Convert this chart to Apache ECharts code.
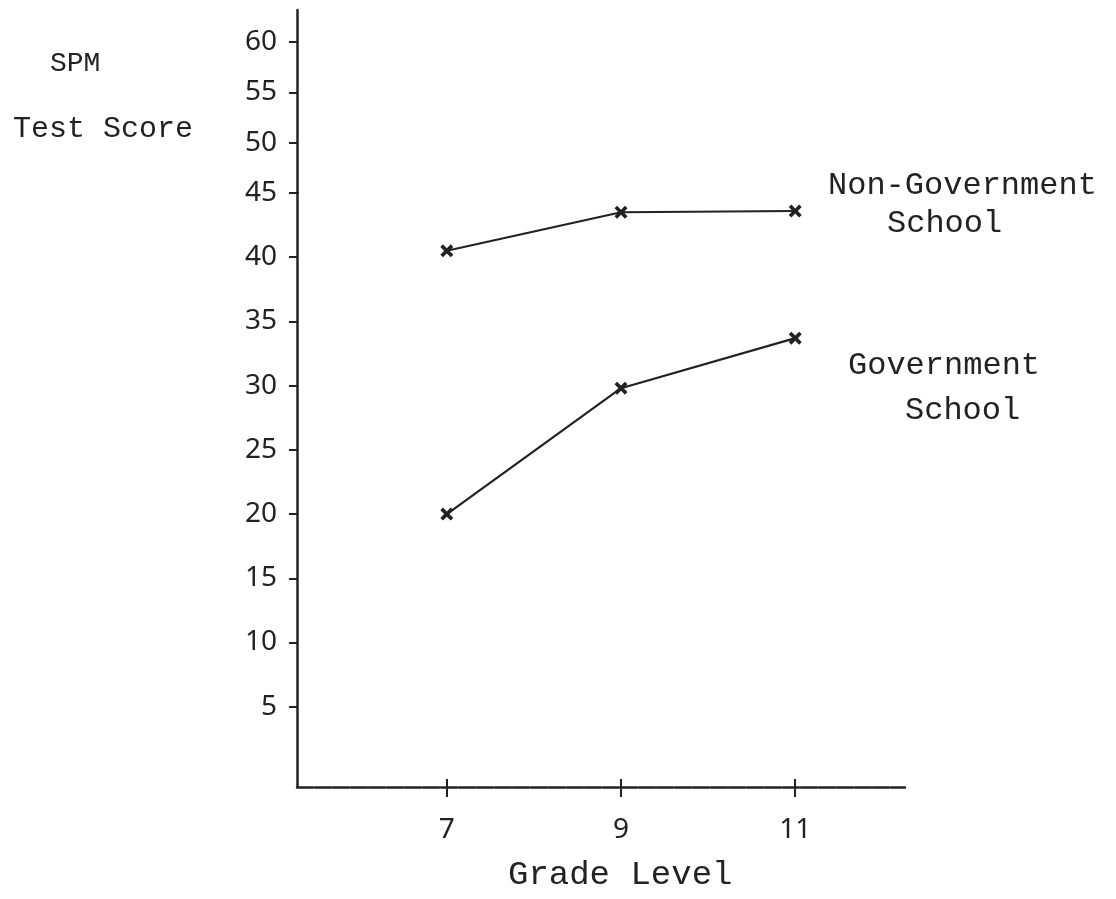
<!DOCTYPE html>
<html>
<head>
<meta charset="utf-8">
<script src="https://cdn.jsdelivr.net/npm/echarts@6/dist/echarts.min.js"></script>
<style>html,body{margin:0;padding:0;background:#fff;}#c{width:1116px;height:899px;}</style>
</head>
<body>
<div id="c"></div>
<script>
// ---- data ----
var grades = [7, 9, 11];
var nonGovScores = [40.5, 43.5, 43.6];
var govScores = [20, 29.8, 33.7];
var lowerTicks = [5, 10, 15, 20, 25, 30, 35, 40, 45];
var upperTicks = [50, 55, 60];
var gradeTicks = [7, 9, 11];

var ink = '#222222';
var typeFont = '"Liberation Mono", "DejaVu Sans Mono", monospace';
var numFont = '"Noto Sans", "Open Sans", sans-serif';

function pairs(xs, ys) { return xs.map(function (x, i) { return [x, ys[i]]; }); }

var crossPath = 'path://M2,0 L5,3 L8,0 L10,2 L7,5 L10,8 L8,10 L5,7 L2,10 L0,8 L3,5 L0,2 Z';

var chart = echarts.init(document.getElementById('c'), null, {renderer: 'canvas'});
chart.setOption({
  backgroundColor: '#ffffff',
  animation: false,
  grid: [
    {left: 297, top: 193, width: 608, height: 594},
    {left: 297, top: 10, width: 608, height: 183}
  ],
  xAxis: [
    {
      type: 'value', gridIndex: 0, min: 5.28, max: 12.26,
      axisLine: {show: true, onZero: false, lineStyle: {color: ink, width: 2.5, type: [16, 2]}},
      axisTick: {show: true, customValues: gradeTicks, length: 10, lineStyle: {color: ink, width: 2}},
      axisLabel: {show: true, customValues: gradeTicks, margin: 29, fontSize: 28, color: ink, fontFamily: numFont},
      splitLine: {show: false}
    },
    {
      type: 'value', gridIndex: 0, min: 5.28, max: 12.26, position: 'bottom',
      axisLine: {show: false, onZero: false},
      axisTick: {show: true, inside: true, customValues: gradeTicks, length: 8, lineStyle: {color: ink, width: 2}},
      axisLabel: {show: false},
      splitLine: {show: false}
    },
    {type: 'value', gridIndex: 1, min: 5.28, max: 12.26, show: false}
  ],
  yAxis: [
    {
      type: 'value', gridIndex: 0, min: -1.25, max: 45,
      axisLine: {show: true, onZero: false, lineStyle: {color: ink, width: 2.5}},
      axisTick: {show: true, customValues: lowerTicks, length: 8, lineStyle: {color: ink, width: 2}},
      axisLabel: {show: true, customValues: lowerTicks, margin: 20, fontSize: 28, color: ink, fontFamily: numFont},
      splitLine: {show: false}
    },
    {
      type: 'value', gridIndex: 1, min: 45, max: 63.2,
      axisLine: {show: true, onZero: false, lineStyle: {color: ink, width: 2.5}},
      axisTick: {show: true, customValues: upperTicks, length: 8, lineStyle: {color: ink, width: 2}},
      axisLabel: {show: true, customValues: upperTicks, margin: 20, fontSize: 28, color: ink, fontFamily: numFont},
      splitLine: {show: false}
    }
  ],
  series: [
    {
      name: 'Non-Government School', type: 'line', xAxisIndex: 0, yAxisIndex: 0,
      data: pairs(grades, nonGovScores),
      symbol: crossPath, symbolSize: 13, showAllSymbol: true,
      lineStyle: {color: ink, width: 2.2},
      itemStyle: {color: ink}
    },
    {
      name: 'Government School', type: 'line', xAxisIndex: 0, yAxisIndex: 0,
      data: pairs(grades, govScores),
      symbol: crossPath, symbolSize: 13, showAllSymbol: true,
      lineStyle: {color: ink, width: 2.2},
      itemStyle: {color: ink}
    }
  ],
  graphic: [
    {type: 'text', left: 50, top: 50, style: {text: 'SPM', font: '28px ' + typeFont, fill: ink}},
    {type: 'text', left: 13, top: 114, style: {text: 'Test Score', font: '30px ' + typeFont, fill: ink}},
    {type: 'text', left: 828, top: 170, style: {text: 'Non-Government', font: '32px ' + typeFont, fill: ink}},
    {type: 'text', left: 887, top: 208, style: {text: 'School', font: '32px ' + typeFont, fill: ink}},
    {type: 'text', left: 848, top: 350, style: {text: 'Government', font: '32px ' + typeFont, fill: ink}},
    {type: 'text', left: 905, top: 395, style: {text: 'School', font: '32px ' + typeFont, fill: ink}},
    {type: 'text', left: 508, top: 858, style: {text: 'Grade Level', font: '34px ' + typeFont, fill: ink}}
  ]
});
</script>
</body>
</html>
